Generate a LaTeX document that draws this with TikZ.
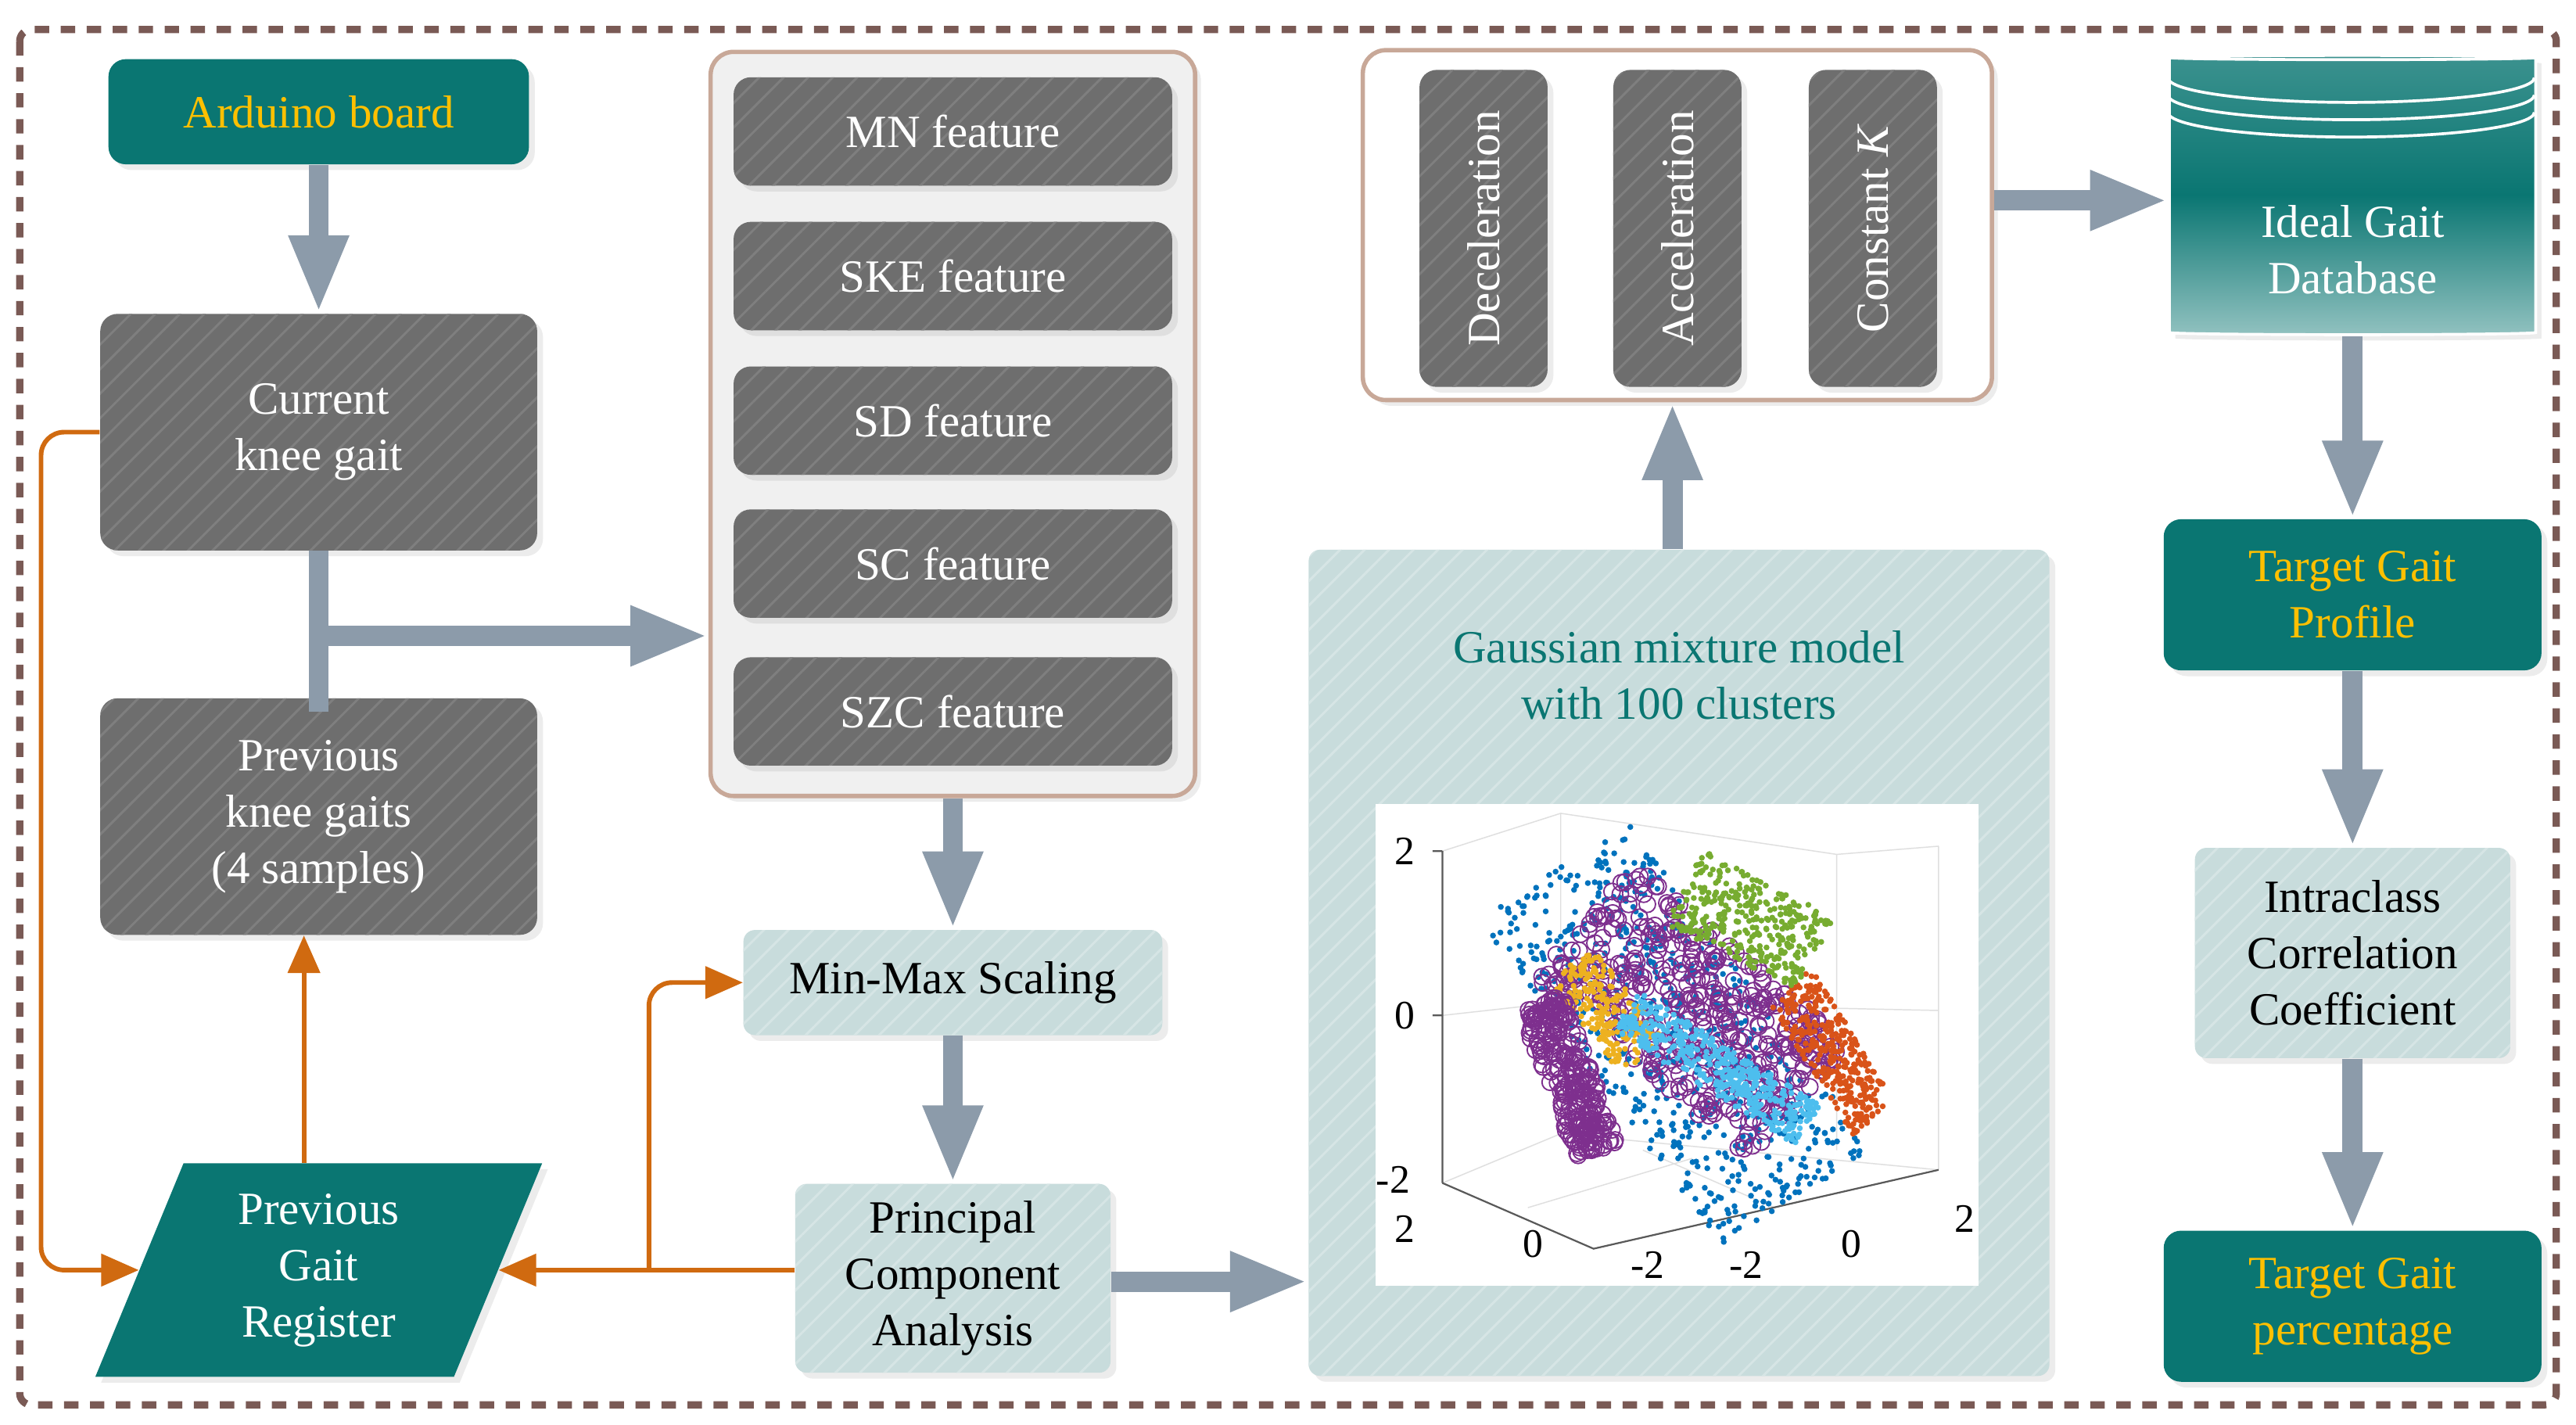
\documentclass[tikz,border=0pt]{standalone}
\usepackage{fontspec}
\setmainfont{Liberation Serif}
\usetikzlibrary{positioning,shapes.geometric,arrows.meta,patterns.meta,shadows}
\definecolor{tealbox}{HTML}{0A7672}
\definecolor{goldtxt}{HTML}{FFC000}
\definecolor{darkbox}{HTML}{6E6E6E}
\definecolor{lightbox}{HTML}{C8DCDC}
\definecolor{arrowc}{HTML}{8C9BAA}
\definecolor{orangel}{HTML}{D06A10}
\definecolor{framec}{HTML}{7A5A55}
\definecolor{featbd}{HTML}{C8A898}
\definecolor{dotblue}{HTML}{0072BD}
\definecolor{dotpurp}{HTML}{7E2F8E}
\definecolor{dotgreen}{HTML}{77AC30}
\definecolor{dotorange}{HTML}{D95319}
\definecolor{dotyellow}{HTML}{EDB120}
\definecolor{dotcyan}{HTML}{4DBEEE}
\tikzset{
  txt/.style={font=\fontsize{16}{19.5}\selectfont, align=center},
  shd/.style={drop shadow={opacity=0.15, shadow xshift=2pt, shadow yshift=-2pt}},
  tealn/.style={txt, shd, rounded corners=6pt, fill=tealbox, text=goldtxt},
  darkn/.style={txt, shd, rounded corners=6pt, fill=darkbox, text=white,
    postaction={pattern={Lines[angle=45,distance=6pt,line width=0.8pt]}, pattern color=white!12!darkbox}},
  lightn/.style={txt, shd, rounded corners=4pt, fill=lightbox, text=black,
    postaction={pattern={Lines[angle=45,distance=6pt,line width=0.8pt]}, pattern color=white!25!lightbox}},
  blk/.style={line width=7pt, draw=arrowc, -{Triangle[length=27pt,width=19pt]}},
  blkline/.style={line width=7pt, draw=arrowc},
  orng/.style={line width=1.6pt, draw=orangel, rounded corners=8pt, -{Triangle[length=13pt,width=11pt]}}
}
\begin{document}
\begin{tikzpicture}[x=0.02cm, y=-0.02cm]
\useasboundingbox (0,0) rectangle (1568,867);
\fill[white] (0,0) rectangle (1568,867);
\draw[framec, line width=2.5pt, dash pattern=on 5pt off 4pt, rounded corners=4pt] (12,18) rectangle (1556,855);

% left column
\node[tealn, minimum width=5.12cm, minimum height=1.28cm] (arduino) at (194,68) {Arduino board};
\node[darkn, minimum width=5.32cm, minimum height=2.88cm] (current) at (194,263) {Current\\knee gait};
\node[darkn, minimum width=5.32cm, minimum height=2.88cm] (prev) at (194,497) {Previous\\knee gaits\\(4 samples)};
\node[txt, shd, trapezium, trapezium left angle=71, trapezium right angle=109, trapezium stretches=true,
  fill=tealbox, text=white, minimum width=5.45cm, minimum height=2.6cm, inner sep=0pt] (reg) at (194,773) {Previous\\Gait\\Register};

% features
\node[shd, draw=featbd, line width=1.5pt, fill=gray!12, rounded corners=8pt,
  minimum width=5.9cm, minimum height=9.06cm] (feat) at (580,258) {};
\foreach \nm/\lb/\yy in {mn/MN/80, ske/SKE/168, sd/SD/256, sc/SC/343, szc/SZC/433}
  \node[darkn, minimum width=5.34cm, minimum height=1.32cm] (\nm) at (580,\yy) {\lb{} feature};

\node[lightn, minimum width=5.1cm, minimum height=1.28cm] (minmax) at (580,598) {Min-Max Scaling};
\node[lightn, minimum width=3.84cm, minimum height=2.3cm] (pca) at (580,778) {Principal\\Component\\Analysis};

% gmm box
\node[lightn, minimum width=9.02cm, minimum height=10.06cm] (gmm) at (1022,586) {};
\node[txt, text=tealbox] (gmmt) at (1022,411) {Gaussian mixture model\\with 100 clusters};
\node[fill=white, minimum width=7.34cm, minimum height=5.86cm, inner sep=0pt] (plot) at (1021,636) {};

% scatter plot
\begin{scope}
\draw[gray!25, line width=0.4pt] (878,518) -- (878,705) (878,518) -- (950,495) -- (1118,520) -- (1180,515)
  (950,495) -- (950,690) (1118,520) -- (1118,700) (1180,515) -- (1180,712) (878,618) -- (950,610) -- (1180,615)
  (950,690) -- (878,720) (950,690) -- (1180,712) (930,735) -- (1030,705) (1080,735) -- (1000,700);
\draw[gray!70!black, line width=0.6pt] (878,518) -- (878,720) (872,518) -- (878,518) (872,618) -- (878,618)
  (878,720) -- (970,760) -- (1180,712);
\pgfmathsetseed{11}
\foreach \cx/\cy/\ax/\ay/\bx/\by/\n/\kd/\cc in {
  1020/630/75/100/45/-30/700/0/dotblue,
  1030/615/65/55/30/-35/450/1/dotpurp,
  1115/640/25/40/12/-12/350/0/dotorange,
  1065/560/40/20/12/-22/350/0/dotgreen,
  978/615/22/28/12/-12/220/0/dotyellow,
  955/655/17/45/13/-5/260/1/dotpurp,
  1045/650/55/35/8/-12/450/0/dotcyan}{
  \foreach \i in {1,...,\n}{
    \pgfmathsetmacro\uu{rand}\pgfmathsetmacro\vv{rand}
    \ifnum\kd=0
      \fill[\cc] (\cx+\ax*\uu+\bx*\vv, \cy+\ay*\uu+\by*\vv) circle[radius=1.8];
    \else
      \draw[\cc, line width=0.5pt] (\cx+\ax*\uu+\bx*\vv, \cy+\ay*\uu+\by*\vv) circle[radius=5];
    \fi
  }
}
\foreach \lb/\xx/\yy in {2/855/518, 0/855/618, -2/848/718, 2/855/748, 0/933/757, -2/1003/770, -2/1063/770, 0/1127/757, 2/1196/742}
  \node[font=\fontsize{14}{15}\selectfont, inner sep=0pt] at (\xx,\yy) {\lb};
\end{scope}

% constants
\node[shd, draw=featbd, line width=1.5pt, fill=white, rounded corners=8pt,
  minimum width=7.66cm, minimum height=4.26cm] (kbox) at (1021,137) {};
\node[darkn, minimum width=1.56cm, minimum height=3.86cm] (dec) at (903,139) {};
\node[darkn, minimum width=1.56cm, minimum height=3.86cm] (acc) at (1021,139) {};
\node[darkn, minimum width=1.56cm, minimum height=3.86cm] (konst) at (1140,139) {};
\node[txt, text=white, rotate=90] at (dec) {Deceleration};
\node[txt, text=white, rotate=90] at (acc) {Acceleration};
\node[txt, text=white, rotate=90] at (konst) {Constant \textit{K}};

% right column
\node[shd, cylinder, shape border rotate=90, aspect=0.22, draw=white, line width=1pt,
  top color=tealbox!80, bottom color=tealbox!45, middle color=tealbox,
  minimum width=4.46cm, minimum height=3.4cm] (db) at (1432,120) {};
\foreach \dy in {7,13,19} \draw[white, line width=1pt] ([yshift=-\dy pt]db.before top) arc[start angle=180, end angle=360, x radius=2.23cm, y radius=0.3cm];
\node[txt, text=white] (dbt) at (1432,152) {Ideal Gait\\Database};
\node[tealn, minimum width=4.6cm, minimum height=1.84cm] (tprof) at (1432,362) {Target Gait\\Profile};
\node[lightn, minimum width=3.84cm, minimum height=2.56cm] (icc) at (1432,580) {Intraclass\\Correlation\\Coefficient};
\node[tealn, minimum width=4.6cm, minimum height=1.84cm] (tpct) at (1432,795) {Target Gait\\percentage};

% block arrows
\draw[blk] (arduino.south) -- (current.north);
\coordinate (tj) at (194,387);
\coordinate (tb) at (194,433);
\draw[blkline] (current.south) -- (tb);
\draw[blk] (tj) -- (tj -| feat.west);
\draw[blk] (feat.south) -- (minmax.north);
\draw[blk] (minmax.south) -- (pca.north);
\draw[blk] (pca.east |- 0,780) -- (gmm.west |- 0,780);
\draw[blk] (gmm.north -| 1018,0) -- (kbox.south -| 1018,0);
\draw[blk] (kbox.east |- 0,122) -- (db.west |- 0,122);
\draw[blk] (db.south) -- (tprof.north);
\draw[blk] (tprof.south) -- (icc.north);
\draw[blk] (icc.south) -- (tpct.north);

% register links
\coordinate (lft) at (25,263);
\draw[orng] (current.west) -- (lft) |- (reg.west);
\draw[orng] (reg.north -| 185,0) -- (prev.south -| 185,0);
\draw[orng] (pca.west |- reg.east) -- (reg.east);
\coordinate (br) at (395,773);
\draw[orng] (br) |- (minmax.west);
\end{tikzpicture}
\end{document}
